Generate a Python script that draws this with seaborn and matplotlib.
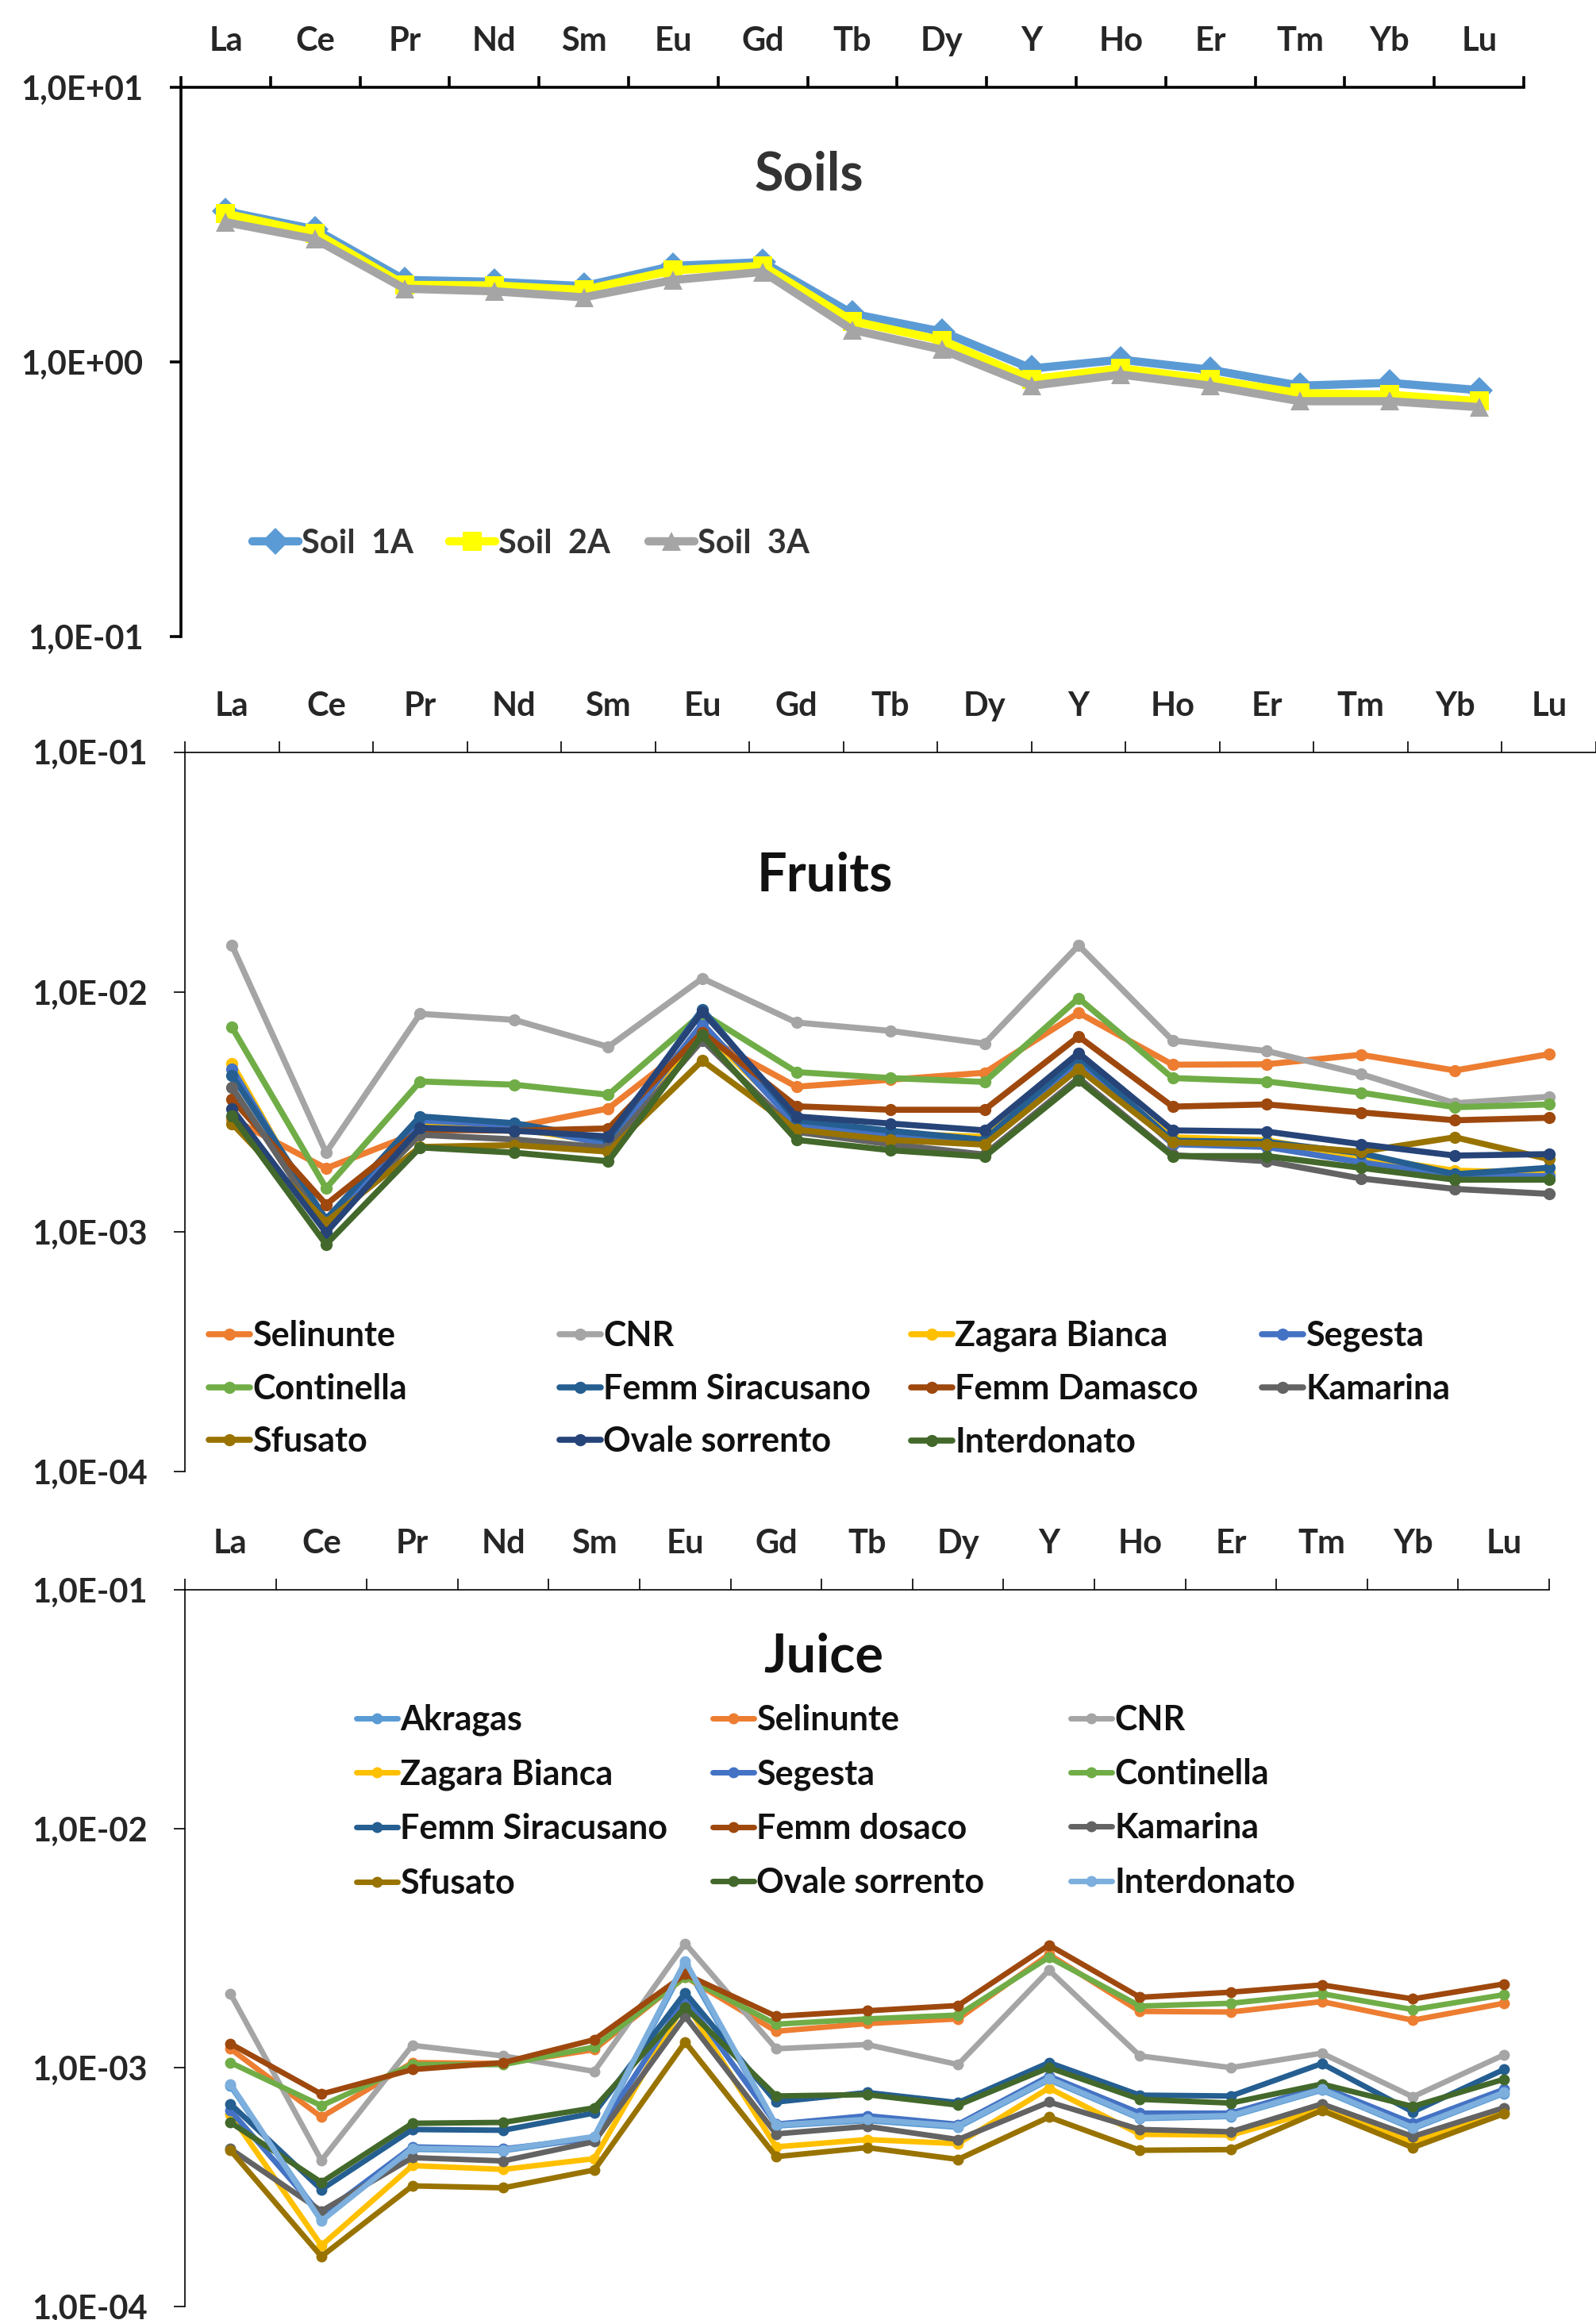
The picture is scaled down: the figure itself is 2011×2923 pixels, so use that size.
import numpy as np
import pandas as pd
import matplotlib
matplotlib.use("Agg")
import matplotlib.pyplot as plt
from matplotlib.lines import Line2D
from matplotlib.ticker import FixedLocator, FuncFormatter, NullLocator
import seaborn as sns

elements = ['La', 'Ce', 'Pr', 'Nd', 'Sm', 'Eu', 'Gd', 'Tb', 'Dy', 'Y', 'Ho', 'Er', 'Tm', 'Yb', 'Lu']

# soils
soil_1a = [3.54, 3.04, 1.99, 1.96, 1.89, 2.24, 2.31, 1.50, 1.29, 0.947, 1.02, 0.937, 0.82, 0.84, 0.79]
soil_2a = [3.47, 2.95, 1.91, 1.90, 1.83, 2.16, 2.24, 1.41, 1.20, 0.865, 0.947, 0.865, 0.77, 0.76, 0.72]
soil_3a = [3.23, 2.80, 1.85, 1.81, 1.72, 1.99, 2.13, 1.31, 1.11, 0.82, 0.90, 0.82, 0.72, 0.72, 0.685]

# fruits
f_selinunte = [0.00296, 0.00184, 0.00262, 0.00274, 0.00327, 0.0066, 0.00403, 0.00431, 0.00461, 0.00820, 0.00498, 0.00500, 0.00548, 0.00471, 0.00551]
f_cnr = [0.01567, 0.00214, 0.00812, 0.00766, 0.00591, 0.01141, 0.00747, 0.00689, 0.00610, 0.01567, 0.00628, 0.00568, 0.00455, 0.00344, 0.00366]
f_zagara = [0.00504, 0.00102, 0.00281, 0.00270, 0.00235, 0.0070, 0.00288, 0.00257, 0.00249, 0.00497, 0.00248, 0.00241, 0.00205, 0.00180, 0.00176]
f_segesta = [0.00479, 0.00106, 0.00292, 0.00278, 0.00231, 0.0074, 0.00278, 0.00254, 0.00238, 0.00517, 0.00232, 0.00226, 0.00195, 0.00171, 0.00171]
f_continella = [0.00713, 0.00152, 0.00424, 0.00411, 0.00373, 0.00816, 0.00464, 0.00438, 0.00422, 0.00944, 0.00438, 0.00424, 0.00381, 0.00331, 0.00340]
f_siracusano = [0.00449, 0.00113, 0.00303, 0.00284, 0.00243, 0.00848, 0.00292, 0.00264, 0.00242, 0.00537, 0.00240, 0.00237, 0.00213, 0.00174, 0.00185]
f_damasco = [0.00357, 0.00130, 0.00267, 0.00264, 0.00270, 0.0068, 0.00334, 0.00323, 0.00323, 0.00653, 0.00333, 0.00340, 0.00315, 0.00292, 0.00299]
f_kamarina = [0.00401, 0.00103, 0.00254, 0.00243, 0.00224, 0.0063, 0.00261, 0.00232, 0.00210, 0.00438, 0.00209, 0.00197, 0.00167, 0.00151, 0.00144]
f_sfusato = [0.00283, 0.00110, 0.00226, 0.00230, 0.00216, 0.00518, 0.00267, 0.00242, 0.00231, 0.00479, 0.00236, 0.00232, 0.00216, 0.00248, 0.00201]
f_ovale = [0.00326, 0.000993, 0.00272, 0.00264, 0.00250, 0.00827, 0.00303, 0.00283, 0.00265, 0.00557, 0.00265, 0.00262, 0.00232, 0.00208, 0.00211]
f_interdonato = [0.00305, 0.000886, 0.00225, 0.00214, 0.00197, 0.0066, 0.00242, 0.00219, 0.00206, 0.00428, 0.00207, 0.00207, 0.00185, 0.00165, 0.00165]

# juice
j_akragas = [0.00084, 0.000232, 0.000455, 0.000449, 0.000510, 0.0027, 0.000570, 0.000600, 0.000563, 0.000890, 0.000612, 0.000625, 0.000805, 0.000555, 0.000780]
j_selinunte = [0.00120, 0.000621, 0.00105, 0.00104, 0.00119, 0.00240, 0.00142, 0.00153, 0.00160, 0.00298, 0.00172, 0.00171, 0.00189, 0.00158, 0.00186]
j_cnr = [0.00204, 0.000409, 0.00124, 0.00112, 0.000965, 0.00331, 0.00120, 0.00125, 0.00103, 0.00256, 0.00112, 0.00100, 0.00115, 0.000755, 0.00113]
j_zagara = [0.000637, 0.000180, 0.000389, 0.000375, 0.000416, 0.00188, 0.000466, 0.000500, 0.000481, 0.000822, 0.000526, 0.000522, 0.000670, 0.000488, 0.000653]
j_segesta = [0.000662, 0.000242, 0.000466, 0.000457, 0.000507, 0.00195, 0.000580, 0.000629, 0.000579, 0.000922, 0.000645, 0.000645, 0.000832, 0.000585, 0.000811]
j_continella = [0.00105, 0.000693, 0.00103, 0.00103, 0.00122, 0.00240, 0.00152, 0.00160, 0.00166, 0.00290, 0.00181, 0.00186, 0.00204, 0.00175, 0.00202]
j_siracusano = [0.000705, 0.000309, 0.000551, 0.000547, 0.000646, 0.00206, 0.000718, 0.000787, 0.000714, 0.00105, 0.000767, 0.000761, 0.00104, 0.000653, 0.000982]
j_dosaco = [0.00126, 0.000775, 0.000982, 0.00105, 0.00131, 0.00246, 0.00164, 0.00173, 0.00182, 0.00326, 0.00197, 0.00207, 0.00222, 0.00194, 0.00224]
j_kamarina = [0.000457, 0.000251, 0.000420, 0.000407, 0.000490, 0.00164, 0.000528, 0.000568, 0.000500, 0.000718, 0.000551, 0.000539, 0.000705, 0.000515, 0.000679]
j_sfusato = [0.000451, 0.000162, 0.000320, 0.000314, 0.000373, 0.00128, 0.000424, 0.000463, 0.000413, 0.000621, 0.000451, 0.000454, 0.000662, 0.000463, 0.000641]
j_ovale = [0.000590, 0.000331, 0.000585, 0.000590, 0.000679, 0.00179, 0.000761, 0.000771, 0.000697, 0.00100, 0.000737, 0.000711, 0.000854, 0.000688, 0.000894]
j_interdonato = [0.000855, 0.000228, 0.000460, 0.000453, 0.000515, 0.00279, 0.000575, 0.000608, 0.000570, 0.000900, 0.000618, 0.000630, 0.000812, 0.000561, 0.000787]

soils = {'Soil  1A': soil_1a, 'Soil  2A': soil_2a, 'Soil  3A': soil_3a}
soil_colors = {'Soil  1A': '#5B9BD5', 'Soil  2A': '#FFFF00', 'Soil  3A': '#A5A5A5'}
soil_markers = {'Soil  1A': 'D', 'Soil  2A': 's', 'Soil  3A': '^'}

fruits = {'Selinunte': f_selinunte, 'CNR': f_cnr, 'Zagara Bianca': f_zagara, 'Segesta': f_segesta,
          'Continella': f_continella, 'Femm Siracusano': f_siracusano, 'Femm Damasco': f_damasco,
          'Kamarina': f_kamarina, 'Sfusato': f_sfusato, 'Ovale sorrento': f_ovale, 'Interdonato': f_interdonato}
fruit_colors = {'Selinunte': '#ED7D31', 'CNR': '#A5A5A5', 'Zagara Bianca': '#FFC000', 'Segesta': '#4472C4',
                'Continella': '#70AD47', 'Femm Siracusano': '#255E91', 'Femm Damasco': '#9E480E',
                'Kamarina': '#636363', 'Sfusato': '#997300', 'Ovale sorrento': '#264478', 'Interdonato': '#43682B'}

juice = {'Akragas': j_akragas, 'Selinunte': j_selinunte, 'CNR': j_cnr, 'Zagara Bianca': j_zagara,
         'Segesta': j_segesta, 'Continella': j_continella, 'Femm Siracusano': j_siracusano,
         'Femm dosaco': j_dosaco, 'Kamarina': j_kamarina, 'Sfusato': j_sfusato,
         'Ovale sorrento': j_ovale, 'Interdonato': j_interdonato}
juice_colors = {'Akragas': '#5B9BD5', 'Selinunte': '#ED7D31', 'CNR': '#A5A5A5', 'Zagara Bianca': '#FFC000',
                'Segesta': '#4472C4', 'Continella': '#70AD47', 'Femm Siracusano': '#255E91',
                'Femm dosaco': '#9E480E', 'Kamarina': '#636363', 'Sfusato': '#997300',
                'Ovale sorrento': '#43682B', 'Interdonato': '#7CAFDD'}

sns.set_style("white")
plt.rcParams['font.family'] = ['Lato', 'DejaVu Sans']
plt.rcParams['font.weight'] = 'bold'
plt.rcParams['text.color'] = '#111111'
plt.rcParams['lines.solid_capstyle'] = 'round'
plt.rcParams['lines.solid_joinstyle'] = 'round'

TICK_FS = 30


def to_long(series):
    rows = []
    for name, vals in series.items():
        for el, v in zip(elements, vals):
            rows.append({'sample': name, 'element': el, 'value': v})
    return pd.DataFrame(rows)


def sci_label(v, pos):
    e = int(round(np.log10(v)))
    return "1,0E{}{:02d}".format('+' if e >= 0 else '-', abs(e))


def draw_panel(ax, series, colors, markers, decades, lw, ms, spine_w):
    df = to_long(series)
    order = list(series.keys())
    sns.lineplot(data=df, x='element', y='value', hue='sample', hue_order=order, palette=colors,
                 style='sample', style_order=order, markers=markers, dashes=False,
                 sort=False, estimator=None, legend=False, ax=ax,
                 linewidth=lw, markersize=ms, markeredgewidth=0)
    ax.set_yscale('log')
    ax.set_ylim(decades[0], decades[-1])
    ax.set_xlim(-0.5, 14.5)
    ax.set_xlabel('')
    ax.set_ylabel('')
    # x axis sits on top, labels between the tick marks
    ax.xaxis.set_ticks_position('top')
    ax.set_xticks(range(len(elements)))
    ax.set_xticklabels(elements)
    ax.set_xticks(np.arange(-0.5, 15, 1), minor=True)
    ax.tick_params(axis='x', which='major', top=True, bottom=False, length=0, pad=28,
                   labelsize=TICK_FS, labeltop=True, labelbottom=False)
    ax.tick_params(axis='x', which='minor', top=True, bottom=False, length=10,
                   width=spine_w, direction='out', color='black')
    ax.yaxis.set_major_locator(FixedLocator(decades))
    ax.yaxis.set_minor_locator(NullLocator())
    ax.yaxis.set_major_formatter(FuncFormatter(sci_label))
    ax.tick_params(axis='y', which='major', left=True, length=10, width=spine_w,
                   direction='out', pad=24, labelsize=TICK_FS, color='black')
    for t in ax.get_xticklabels() + ax.get_yticklabels():
        t.set_fontweight('bold')
    ax.spines['right'].set_visible(False)
    ax.spines['bottom'].set_visible(False)
    for s in ('top', 'left'):
        ax.spines[s].set_color('black')
        ax.spines[s].set_linewidth(spine_w)


def add_legend(fig, columns, x_positions, top, colors, markers, lw, ms, fs, spacing, hlen, tcolor):
    for col, x in zip(columns, x_positions):
        handles = [Line2D([], [], color=colors[n], marker=markers[n], lw=lw, ms=ms, mew=0) for n in col]
        leg = fig.legend(handles, col, loc='upper left', bbox_to_anchor=(x, top), frameon=False,
                         prop={'size': fs, 'weight': 'bold'}, handlelength=hlen, handletextpad=0.08,
                         labelspacing=spacing, borderpad=0, borderaxespad=0)
        for t in leg.get_texts():
            t.set_color(tcolor)


fig = plt.figure(figsize=(20.11, 29.23), dpi=100)

ax1 = fig.add_axes([0.1134, 0.7256, 0.8414, 0.2367])
ax2 = fig.add_axes([0.1159, 0.3657, 0.8841, 0.3100])
ax3 = fig.add_axes([0.1159, 0.0058, 0.8548, 0.3089])

draw_panel(ax1, soils, soil_colors, soil_markers, [0.1, 1.0, 10.0], 7.5, 17, 2.6)
fruit_markers = {n: 'o' for n in fruits}
draw_panel(ax2, fruits, fruit_colors, fruit_markers, [1e-4, 1e-3, 1e-2, 1e-1], 5.5, 11, 1.2)
juice_markers = {n: 'o' for n in juice}
draw_panel(ax3, juice, juice_colors, juice_markers, [1e-4, 1e-3, 1e-2, 1e-1], 5.0, 10, 1.2)

fig.text(0.507, 0.9247, 'Soils', ha='center', va='center', fontsize=48, fontweight='bold', color='#333333')
fig.text(0.517, 0.6224, 'Fruits', ha='center', va='center', fontsize=48, fontweight='bold', color='#111111')
fig.text(0.516, 0.2857, 'Juice', ha='center', va='center', fontsize=48, fontweight='bold', color='#111111')

# legends
soil_names = list(soils.keys())
add_legend(fig, [[n] for n in soil_names], [318 / 2011, 566 / 2011, 817 / 2011], 0.7722,
           soil_colors, soil_markers, 7.5, 17, 30, 0.4, 1.4, '#333333')

fn = list(fruits.keys())
fruit_cols = [fn[0::4], fn[1::4], fn[2::4], fn[3::4]]
add_legend(fig, fruit_cols, [263 / 2011, 705 / 2011, 1148 / 2011, 1590 / 2011], 0.4311,
           fruit_colors, fruit_markers, 5.5, 11, 31, 0.62, 1.2, '#111111')

jn = list(juice.keys())
juice_cols = [jn[0::3], jn[1::3], jn[2::3]]
add_legend(fig, juice_cols, [449 / 2011, 898 / 2011, 1349 / 2011], 0.2656,
           juice_colors, juice_markers, 5.0, 10, 31, 0.66, 1.2, '#111111')

fig.savefig('out.png', dpi=100, facecolor='white')
